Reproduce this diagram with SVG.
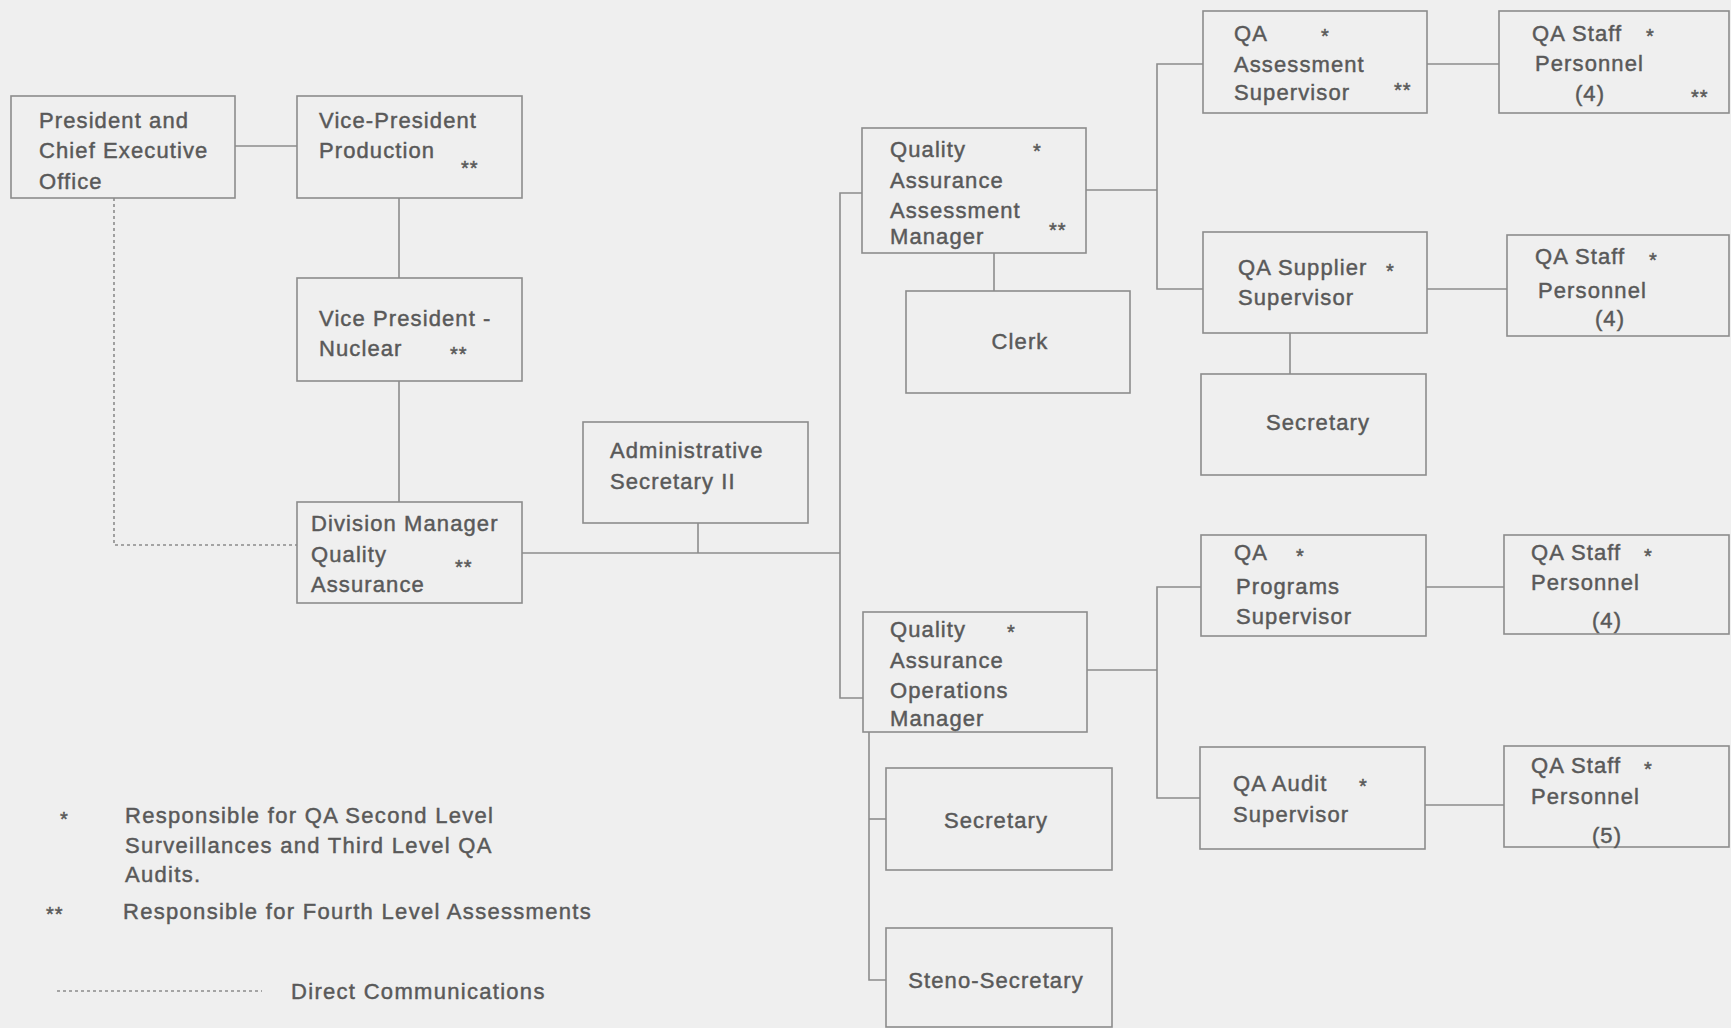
<svg xmlns="http://www.w3.org/2000/svg" width="1731" height="1028" viewBox="0 0 1731 1028">
<style>
.box{fill:none;stroke:#8c8c8c;stroke-width:1.6}
.ln{fill:none;stroke:#8c8c8c;stroke-width:1.6}
.dot{fill:none;stroke:#8c8c8c;stroke-width:1.6;stroke-dasharray:3 3}
text{font-family:"Liberation Sans",Arial,sans-serif;font-size:22px;fill:#595959;stroke:#595959;stroke-width:0.45;letter-spacing:1.1px}
.c{text-anchor:middle}
.ast{font-size:20px;letter-spacing:1px}
.lg{letter-spacing:1.3px}
</style>
<rect width="1731" height="1028" fill="#efefef"/>
<g id="connectors">
<line class="ln" x1="235" y1="146" x2="297" y2="146"/>
<line class="ln" x1="399" y1="198" x2="399" y2="278"/>
<line class="ln" x1="399" y1="381" x2="399" y2="502"/>
<polyline class="dot" points="114,198 114,545 297,545"/>
<line class="ln" x1="522" y1="553" x2="840" y2="553"/>
<line class="ln" x1="698" y1="523" x2="698" y2="553"/>
<polyline class="ln" points="862,193 840,193 840,698 863,698"/>
<line class="ln" x1="994" y1="253" x2="994" y2="291"/>
<line class="ln" x1="1086" y1="190" x2="1157" y2="190"/>
<polyline class="ln" points="1203,64 1157,64 1157,289 1203,289"/>
<line class="ln" x1="1427" y1="64" x2="1499" y2="64"/>
<line class="ln" x1="1427" y1="289" x2="1507" y2="289"/>
<line class="ln" x1="1290" y1="333" x2="1290" y2="374"/>
<line class="ln" x1="1087" y1="670" x2="1157" y2="670"/>
<polyline class="ln" points="1201,587 1157,587 1157,798 1200,798"/>
<line class="ln" x1="1426" y1="587" x2="1504" y2="587"/>
<line class="ln" x1="1425" y1="805" x2="1504" y2="805"/>
<polyline class="ln" points="869,732 869,980 886,980"/>
<line class="ln" x1="869" y1="819" x2="886" y2="819"/>
</g>
<g id="president">
<rect class="box" x="11" y="96" width="224" height="102"/>
<text x="39" y="128">President and</text>
<text x="39" y="158">Chief Executive</text>
<text x="39" y="189">Office</text>
</g>
<g id="vp-production">
<rect class="box" x="297" y="96" width="225" height="102"/>
<text x="319" y="128">Vice-President</text>
<text x="319" y="158">Production</text>
<text class="ast" x="461" y="175">**</text>
</g>
<g id="vp-nuclear">
<rect class="box" x="297" y="278" width="225" height="103"/>
<text x="319" y="326">Vice President -</text>
<text x="319" y="356">Nuclear</text>
<text class="ast" x="450" y="361">**</text>
</g>
<g id="division-manager">
<rect class="box" x="297" y="502" width="225" height="101"/>
<text x="311" y="531">Division Manager</text>
<text x="311" y="562">Quality</text>
<text x="311" y="592">Assurance</text>
<text class="ast" x="455" y="574">**</text>
</g>
<g id="admin-secretary">
<rect class="box" x="583" y="422" width="225" height="101"/>
<text x="610" y="458">Administrative</text>
<text x="610" y="489">Secretary II</text>
</g>
<g id="qa-assessment-manager">
<rect class="box" x="862" y="128" width="224" height="125"/>
<text x="890" y="157">Quality</text>
<text x="890" y="188">Assurance</text>
<text x="890" y="218">Assessment</text>
<text x="890" y="244">Manager</text>
<text class="ast" x="1033" y="158">*</text>
<text class="ast" x="1049" y="237">**</text>
</g>
<g id="clerk">
<rect class="box" x="906" y="291" width="224" height="102"/>
<text class="c" x="1020" y="349">Clerk</text>
</g>
<g id="qa-operations-manager">
<rect class="box" x="863" y="612" width="224" height="120"/>
<text x="890" y="637">Quality</text>
<text x="890" y="668">Assurance</text>
<text x="890" y="698">Operations</text>
<text x="890" y="726">Manager</text>
<text class="ast" x="1007" y="639">*</text>
</g>
<g id="ops-secretary">
<rect class="box" x="886" y="768" width="226" height="102"/>
<text class="c" x="996" y="828">Secretary</text>
</g>
<g id="steno-secretary">
<rect class="box" x="886" y="928" width="226" height="99"/>
<text class="c" x="996" y="988">Steno-Secretary</text>
</g>
<g id="qa-assessment-supervisor">
<rect class="box" x="1203" y="11" width="224" height="102"/>
<text x="1234" y="41">QA</text>
<text x="1234" y="72">Assessment</text>
<text x="1234" y="100">Supervisor</text>
<text class="ast" x="1321" y="43">*</text>
<text class="ast" x="1394" y="97">**</text>
</g>
<g id="qa-staff-1">
<rect class="box" x="1499" y="11" width="230" height="102"/>
<text x="1532" y="41">QA Staff</text>
<text x="1535" y="71">Personnel</text>
<text class="c" x="1590" y="101">(4)</text>
<text class="ast" x="1646" y="43">*</text>
<text class="ast" x="1691" y="104">**</text>
</g>
<g id="qa-supplier-supervisor">
<rect class="box" x="1203" y="232" width="224" height="101"/>
<text x="1238" y="275">QA Supplier</text>
<text x="1238" y="305">Supervisor</text>
<text class="ast" x="1386" y="278">*</text>
</g>
<g id="qa-staff-2">
<rect class="box" x="1507" y="235" width="222" height="101"/>
<text x="1535" y="264">QA Staff</text>
<text x="1538" y="298">Personnel</text>
<text class="c" x="1610" y="326">(4)</text>
<text class="ast" x="1649" y="267">*</text>
</g>
<g id="supplier-secretary">
<rect class="box" x="1201" y="374" width="225" height="101"/>
<text class="c" x="1318" y="430">Secretary</text>
</g>
<g id="qa-programs-supervisor">
<rect class="box" x="1201" y="535" width="225" height="101"/>
<text x="1234" y="560">QA</text>
<text x="1236" y="594">Programs</text>
<text x="1236" y="624">Supervisor</text>
<text class="ast" x="1296" y="563">*</text>
</g>
<g id="qa-staff-3">
<rect class="box" x="1504" y="535" width="225" height="99"/>
<text x="1531" y="560">QA Staff</text>
<text x="1531" y="590">Personnel</text>
<text class="c" x="1607" y="628">(4)</text>
<text class="ast" x="1644" y="563">*</text>
</g>
<g id="qa-audit-supervisor">
<rect class="box" x="1200" y="747" width="225" height="102"/>
<text x="1233" y="791">QA Audit</text>
<text x="1233" y="822">Supervisor</text>
<text class="ast" x="1359" y="793">*</text>
</g>
<g id="qa-staff-4">
<rect class="box" x="1504" y="746" width="225" height="101"/>
<text x="1531" y="773">QA Staff</text>
<text x="1531" y="804">Personnel</text>
<text class="c" x="1607" y="843">(5)</text>
<text class="ast" x="1644" y="776">*</text>
</g>
<g id="legend">
<text class="ast" x="60" y="826">*</text>
<text class="lg" x="125" y="823">Responsible for QA Second Level</text>
<text class="lg" x="125" y="853">Surveillances and Third Level QA</text>
<text class="lg" x="125" y="882">Audits.</text>
<text class="ast" x="46" y="921">**</text>
<text class="lg" x="123" y="919">Responsible for Fourth Level Assessments</text>
<line class="dot" x1="57" y1="991" x2="262" y2="991"/>
<text class="lg" x="291" y="999">Direct Communications</text>
</g>
</svg>
